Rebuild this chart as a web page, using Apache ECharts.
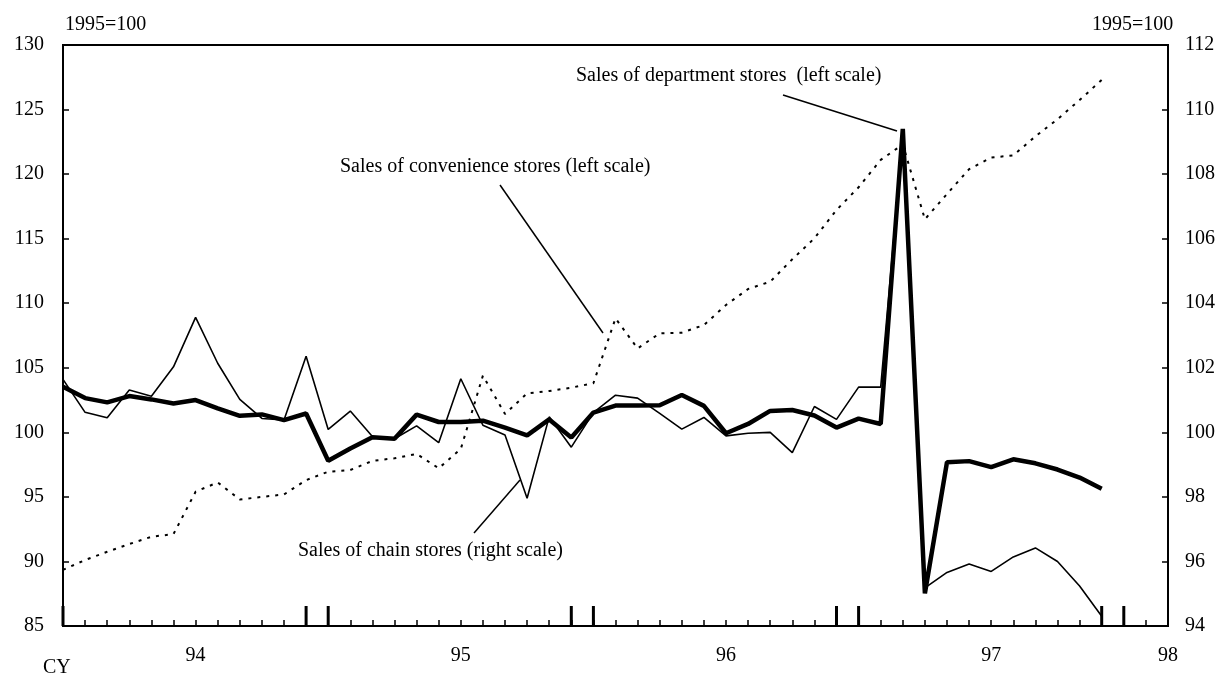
<!DOCTYPE html>
<html><head><meta charset="utf-8">
<script src="https://cdn.jsdelivr.net/npm/echarts@6/dist/echarts.min.js"></script>
<style>html,body{margin:0;padding:0;background:#fff}#c{width:1222px;height:675px}</style>
</head><body><div id="c"></div>
<script>
// Monthly data, Jan 1994 (index 0) to Dec 1997 (index 47)
const deptStores = [103.53,102.65,102.32,102.81,102.55,102.24,102.5,101.85,101.28,101.39,100.95,101.46,
  97.8,98.75,99.62,99.51,101.37,100.8,100.8,100.9,100.36,99.77,101.0,99.6,
  101.53,102.07,102.08,102.1,102.89,102.05,99.93,100.65,101.66,101.73,101.3,100.37,
  101.06,100.65,123.5,87.53,97.69,97.77,97.31,97.91,97.6,97.12,96.5,95.63];
const chainStores = [101.64,100.62,100.45,101.31,101.12,102.03,103.56,102.14,101.02,100.43,100.38,102.36,
  100.09,100.66,99.87,99.80,100.2,99.68,101.66,100.22,99.92,97.96,100.48,99.54,
  100.61,101.15,101.06,100.59,100.1,100.46,99.89,99.97,100.0,99.37,100.8,100.4,
  101.4,101.4,109.2,95.18,95.66,95.92,95.69,96.14,96.42,96.0,95.24,94.3];
const convStores = [89.35,90.11,90.75,91.35,91.91,92.12,95.4,96.12,94.8,95.0,95.19,96.3,
  96.95,97.08,97.79,97.99,98.33,97.22,98.71,104.39,101.42,103.02,103.2,103.46,
  103.8,108.83,106.5,107.67,107.72,108.31,109.86,111.1,111.67,113.4,115.03,117.22,
  118.98,121.1,122.3,116.5,118.46,120.38,121.28,121.45,122.92,124.25,125.74,127.29];
const yearLabelPos = [6,18,30,42,50];
const yearLabels = ['94','95','96','97','98'];
const yearMarks = [0,11,12,23,24,35,36,47,48];

const F = "'Liberation Serif','Times New Roman',serif";
const pairs = arr => arr.map((v,i)=>[i,v]);
const chart = echarts.init(document.getElementById('c'), null, {renderer:'canvas'});
const axisLine = {show:true,lineStyle:{color:'#000',width:2}};
const axisTick = {show:true,inside:true,length:6,lineStyle:{color:'#000',width:1.5}};
chart.setOption({
  animation:false,
  backgroundColor:'#fff',
  grid:{left:63,right:54,top:45,bottom:49,show:true,borderColor:'#000',borderWidth:2,backgroundColor:'transparent'},
  xAxis:{type:'value',min:0,max:50,interval:1,
    axisLine:axisLine,axisTick:axisTick,splitLine:{show:false},
    axisLabel:{color:'#000',fontSize:20,fontFamily:F,margin:20,showMaxLabel:true,
      formatter:v=>{const k=yearLabelPos.indexOf(v);return k>=0?yearLabels[k]:'';}}},
  yAxis:[
    {type:'value',min:85,max:130,interval:5,position:'left',
      axisLine:axisLine,axisTick:axisTick,splitLine:{show:false},
      axisLabel:{color:'#000',fontSize:20,fontFamily:F,margin:19,padding:[6,0,0,0]}},
    {type:'value',min:94,max:112,interval:2,position:'right',
      axisLine:axisLine,axisTick:axisTick,splitLine:{show:false},
      axisLabel:{color:'#000',fontSize:20,fontFamily:F,margin:17,padding:[6,0,0,0]}}
  ],
  series:[
    {name:'Sales of convenience stores',type:'line',yAxisIndex:0,data:pairs(convStores),symbol:'none',
      lineStyle:{color:'#000',width:2,type:[3,6]}},
    {name:'Sales of chain stores',type:'line',yAxisIndex:1,data:pairs(chainStores),symbol:'none',
      lineStyle:{color:'#000',width:1.6}},
    {name:'Sales of department stores',type:'line',yAxisIndex:0,data:pairs(deptStores),symbol:'none',
      lineStyle:{color:'#000',width:4.5}},
    {name:'marks',type:'custom',yAxisIndex:0,data:yearMarks.map(v=>[v,85]),encode:{x:0,y:1},clip:false,
      renderItem:(params,api)=>{
        const p=api.coord([api.value(0),api.value(1)]);
        return {type:'line',shape:{x1:p[0],y1:p[1],x2:p[0],y2:p[1]-20},style:{stroke:'#000',lineWidth:3}};
      }}
  ],
  graphic:[
    {type:'text',left:65,top:15,style:{text:'1995=100',font:'20px '+F,fill:'#000'}},
    {type:'text',left:1092,top:15,style:{text:'1995=100',font:'20px '+F,fill:'#000'}},
    {type:'text',left:43,top:658,style:{text:'CY',font:'20px '+F,fill:'#000'}},
    {type:'text',left:576,top:66,style:{text:'Sales of department stores  (left scale)',font:'20px '+F,fill:'#000'}},
    {type:'text',left:340,top:157,style:{text:'Sales of convenience stores (left scale)',font:'20px '+F,fill:'#000'}},
    {type:'text',left:298,top:541,style:{text:'Sales of chain stores (right scale)',font:'20px '+F,fill:'#000'}},
    {type:'line',shape:{x1:783,y1:95,x2:897,y2:131},style:{stroke:'#000',lineWidth:1.5}},
    {type:'line',shape:{x1:500,y1:185,x2:603,y2:333},style:{stroke:'#000',lineWidth:1.5}},
    {type:'line',shape:{x1:474,y1:533,x2:520,y2:480},style:{stroke:'#000',lineWidth:1.5}}
  ]
});
</script></body></html>
